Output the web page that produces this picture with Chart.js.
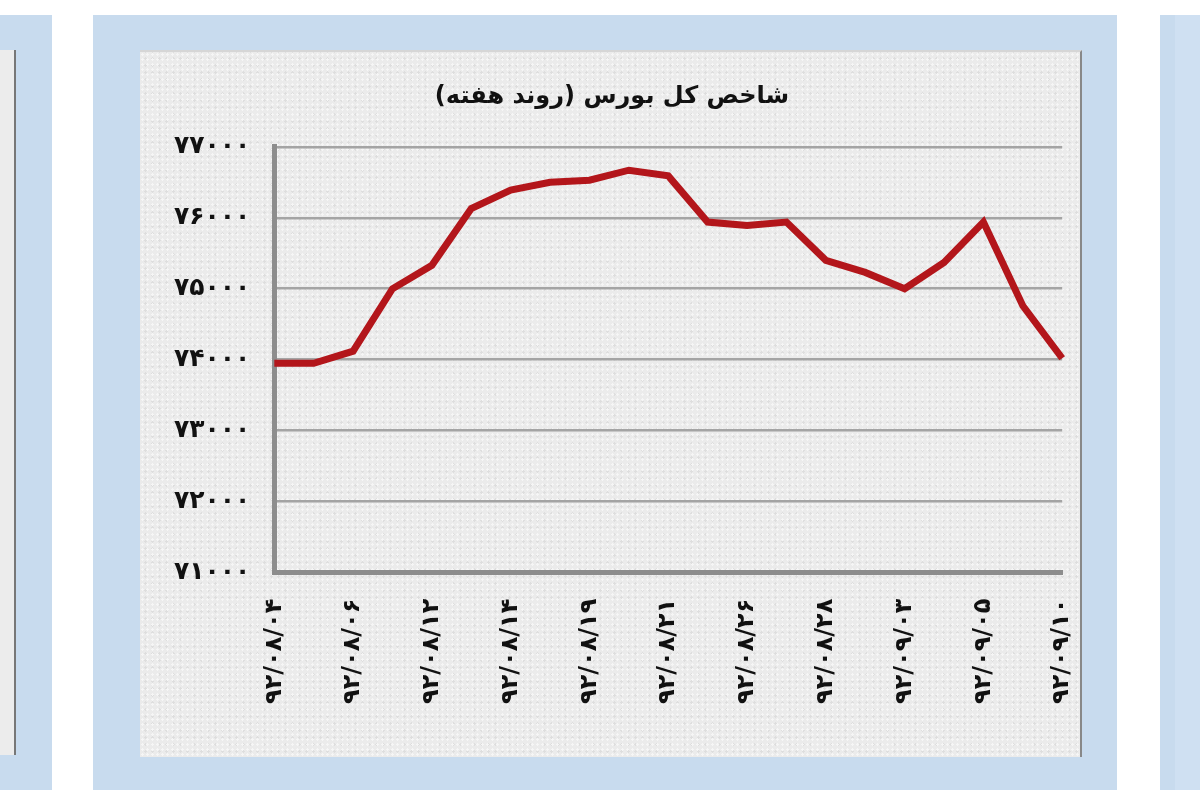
<!DOCTYPE html>
<html lang="fa">
<head>
<meta charset="utf-8">
<title>شاخص کل بورس</title>
<script src="https://cdn.jsdelivr.net/npm/chart.js@4/dist/chart.umd.min.js"></script>
<style>
  html, body { margin: 0; padding: 0; background: #ffffff; }
  body { width: 1200px; height: 800px; position: relative; overflow: hidden; font-family: "DejaVu Sans", sans-serif; }
  .panel { position: absolute; background: #c8dbee; }
  .inner { position: absolute; background: #ebebeb; }
  #left { left: 0; top: 15px; width: 52px; height: 775px; }
  #left .inner { left: 0; top: 35px; width: 14px; height: 705px; border-right: 2px solid #777; background: #ececec; }
  #main { left: 93px; top: 15px; width: 1024px; height: 775px; }
  #main .inner { left: 47px; top: 35px; width: 940px; height: 705px; border-right: 2px solid #888; border-top: 2px solid #d6d6d6;
    background-color: #ebebeb;
    background-image: radial-gradient(#f6f6f6 1px, transparent 1.4px), radial-gradient(#dedede 1px, transparent 1.4px);
    background-size: 5px 5px, 7px 7px; background-position: 0 0, 2px 3px; }
  #right { left: 1160px; top: 15px; width: 40px; height: 775px; }
  #right .inner { left: 15px; top: 0; width: 25px; height: 775px; background: #cfe0f2; }
  canvas { position: absolute; left: -37px; top: 0; }
</style>
</head>
<body>
<div class="panel" id="left"><div class="inner"></div></div>
<div class="panel" id="main"><div class="inner"><canvas id="chart" width="1014" height="705"></canvas></div></div>
<div class="panel" id="right"><div class="inner"></div></div>
<script>
// data
const titleText = 'شاخص کل بورس (روند هفته)';
const dates = [
  '۹۲/۰۸/۰۴', '۹۲/۰۸/۰۵', '۹۲/۰۸/۰۶', '۹۲/۰۸/۰۷', '۹۲/۰۸/۱۲', '۹۲/۰۸/۱۳', '۹۲/۰۸/۱۴',
  '۹۲/۰۸/۱۵', '۹۲/۰۸/۱۹', '۹۲/۰۸/۲۰', '۹۲/۰۸/۲۱', '۹۲/۰۸/۲۲', '۹۲/۰۸/۲۶', '۹۲/۰۸/۲۷',
  '۹۲/۰۸/۲۸', '۹۲/۰۹/۰۲', '۹۲/۰۹/۰۳', '۹۲/۰۹/۰۴', '۹۲/۰۹/۰۵', '۹۲/۰۹/۰۹', '۹۲/۰۹/۱۰'
];
const indexValues = [
  73950, 73950, 74120, 75000, 75330, 76130, 76390,
  76500, 76530, 76670, 76590, 75940, 75890, 75940,
  75400, 75230, 75000, 75370, 75940, 74760, 74020
];
const yMin = 71000;
const yMax = 77000;
const yStep = 1000;

const faDigits = ['۰', '۱', '۲', '۳', '۴', '۵', '۶', '۷', '۸', '۹'];
function toFa(n) {
  return String(n).replace(/[0-9]/g, d => faDigits[d]);
}

const ctx = document.getElementById('chart').getContext('2d');
new Chart(ctx, {
  type: 'line',
  data: {
    labels: dates,
    datasets: [{
      label: titleText,
      data: indexValues,
      borderColor: '#b3161b',
      borderWidth: 7,
      pointRadius: 0,
      tension: 0,
      fill: false
    }]
  },
  options: {
    responsive: false,
    animation: false,
    layout: { padding: { left: 47, right: 43, top: 0, bottom: 27 } },
    plugins: {
      legend: { display: false },
      tooltip: { enabled: false },
      title: {
        display: true,
        text: titleText,
        color: '#111',
        font: { family: 'DejaVu Sans', size: 24, weight: 'bold' },
        padding: { top: 30, bottom: 36 }
      }
    },
    scales: {
      x: {
        offset: false,
        grid: { display: false, drawTicks: false },
        border: { display: true, color: '#8d8d8d', width: 5 },
        ticks: {
          autoSkip: false,
          minRotation: 90,
          maxRotation: 90,
          padding: 26,
          color: '#111',
          font: { family: 'DejaVu Sans', size: 24, weight: 'bold' },
          callback: function(value, i) { return i % 2 === 0 ? dates[i] : ''; }
        }
      },
      y: {
        min: yMin,
        max: yMax,
        grid: { color: '#a4a4a4', lineWidth: 2.5, drawTicks: false },
        border: { display: true, color: '#8d8d8d', width: 5 },
        ticks: {
          stepSize: yStep,
          padding: 24,
          color: '#111',
          font: { family: 'DejaVu Sans', size: 25, weight: 'bold' },
          callback: function(value) { return toFa(value); }
        }
      }
    }
  }
});
</script>
</body>
</html>
